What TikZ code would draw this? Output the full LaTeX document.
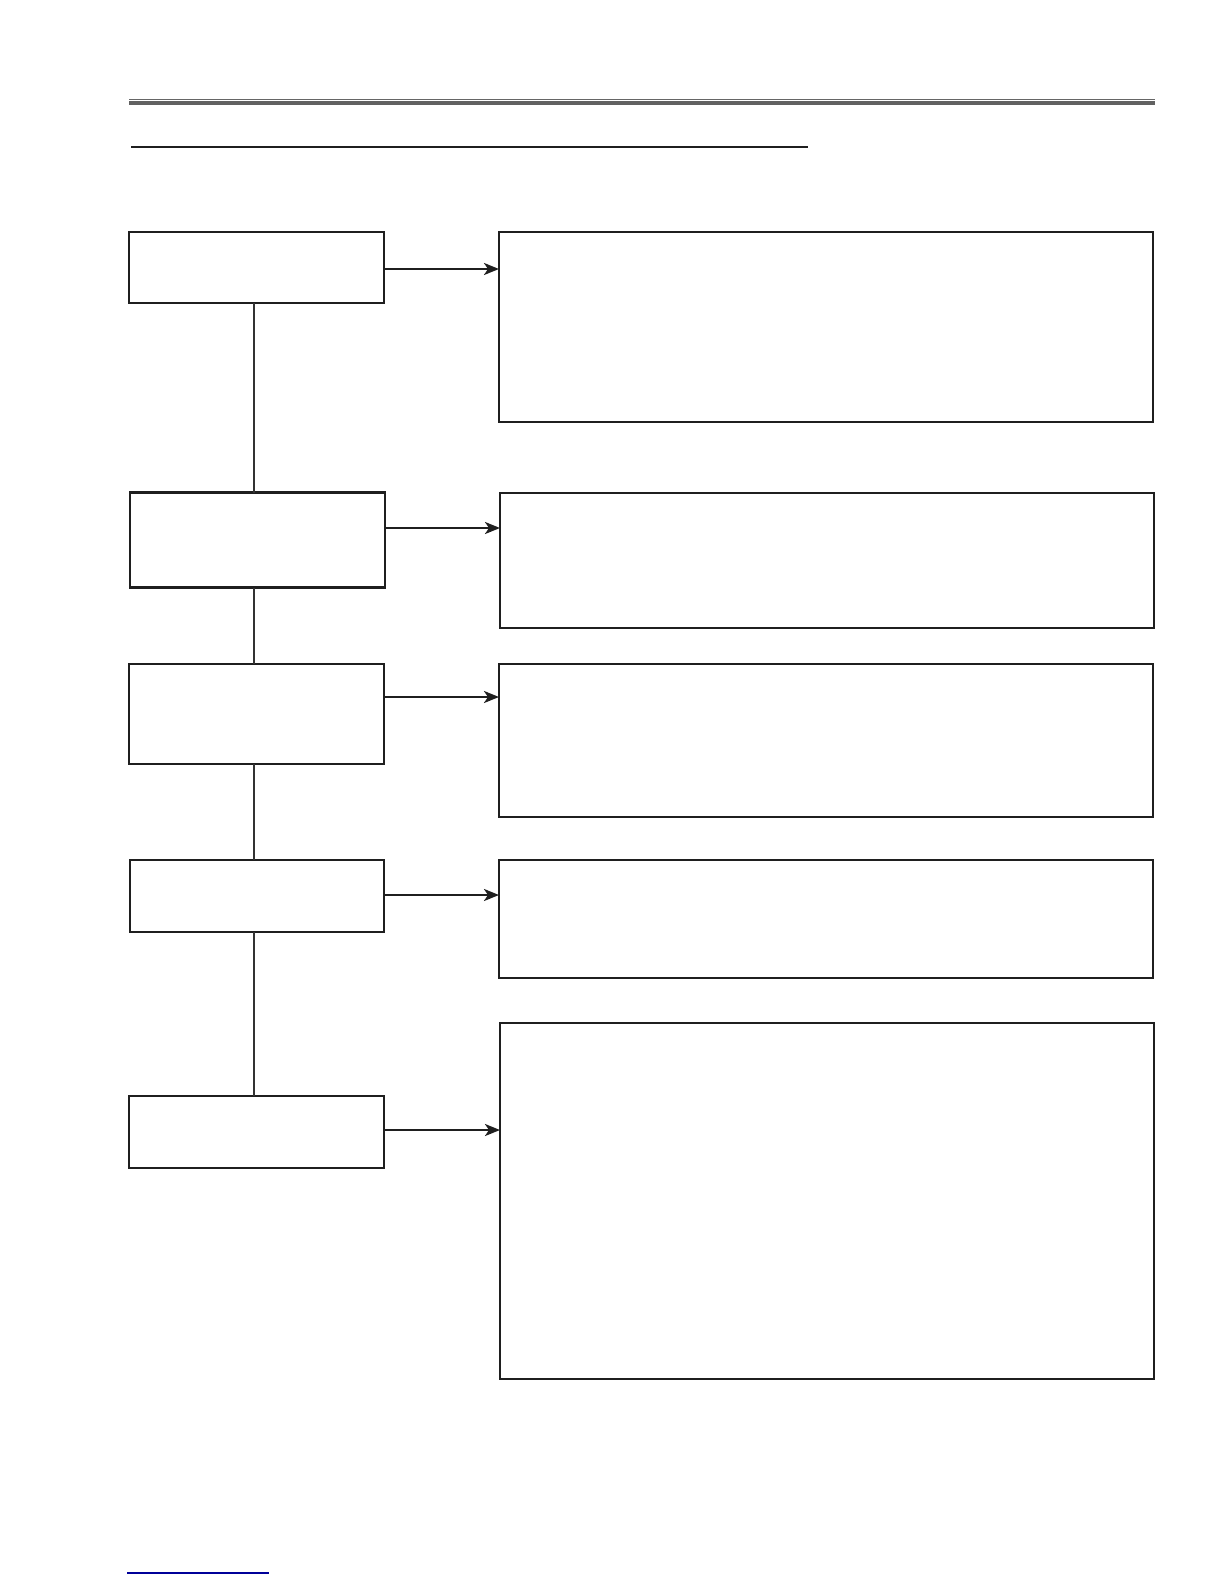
\documentclass[tikz,border=0pt]{standalone}
\usetikzlibrary{arrows.meta}
\begin{document}
\begin{tikzpicture}[x=0.5pt,y=-0.5pt,
  box/.style={draw=black!88,line width=1.35pt,inner sep=0pt,outer sep=0pt,rectangle},
  arr/.style={draw=black!88,line width=1.2pt,-{Stealth[length=7.5pt,width=6pt,inset=2pt]}},
  link/.style={draw=black!80,line width=1.2pt}]
\useasboundingbox[fill=white] (0,0) rectangle (1224,1584);
% header rules
\draw[black!60,line width=0.8pt] (129,99.5) -- (1155,99.5);
\draw[black!62,line width=1.7pt] (129,103) -- (1155,103);
\draw[black!88,line width=1pt] (131,146.5) -- (808,146.5);
\draw[blue!60!black,line width=0.7pt] (127,1573) -- (269,1573);
% left boxes
\node[box,minimum width=127.5pt,minimum height=35.5pt] (B1) at (256.5,267.5) {};
\node[box,minimum width=127.5pt,minimum height=47.5pt] (B2) at (257.5,540) {};
\node[box,minimum width=127.5pt,minimum height=50pt] (B3) at (256.5,714) {};
\node[box,minimum width=127pt,minimum height=36pt] (B4) at (257,896) {};
\node[box,minimum width=127.5pt,minimum height=36pt] (B5) at (256.5,1132) {};
% right boxes
\node[box,minimum width=327pt,minimum height=95pt] (R1) at (826,327) {};
\node[box,minimum width=327pt,minimum height=67.5pt] (R2) at (827,560.5) {};
\node[box,minimum width=327pt,minimum height=76.5pt] (R3) at (826,740.5) {};
\node[box,minimum width=327pt,minimum height=59pt] (R4) at (826,919) {};
\node[box,minimum width=327pt,minimum height=178pt] (R5) at (827,1201) {};
% arrow heights
\coordinate (a1) at (0,269);
\coordinate (a2) at (0,528);
\coordinate (a3) at (0,697);
\coordinate (a4) at (0,895);
\coordinate (a5) at (0,1130);
\draw[arr] (B1.east |- a1) -- (R1.west |- a1);
\draw[arr] (B2.east |- a2) -- (R2.west |- a2);
\draw[arr] (B3.east |- a3) -- (R3.west |- a3);
\draw[arr] (B4.east |- a4) -- (R4.west |- a4);
\draw[arr] (B5.east |- a5) -- (R5.west |- a5);
% vertical links
\coordinate (vx) at (254,0);
\draw[link] (B1.south -| vx) -- (B2.north -| vx);
\draw[link] (B2.south -| vx) -- (B3.north -| vx);
\draw[link] (B3.south -| vx) -- (B4.north -| vx);
\draw[link] (B4.south -| vx) -- (B5.north -| vx);
\end{tikzpicture}
\end{document}
